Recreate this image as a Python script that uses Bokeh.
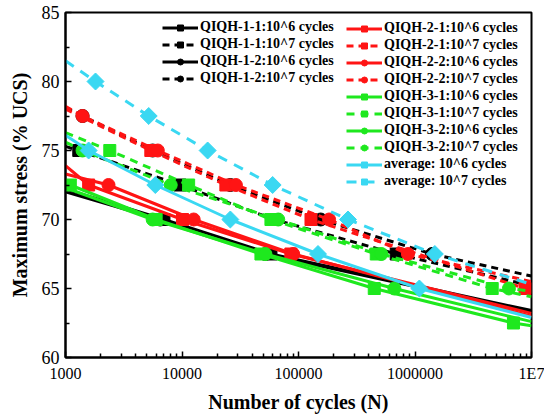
import numpy as np
from bokeh.plotting import figure
from bokeh.models import Range1d, FixedTicker, Legend, LegendItem
from bokeh.embed import file_html
from bokeh.resources import INLINE

labels = [
    "QIQH-1-1:10^6 cycles", "QIQH-1-1:10^7 cycles",
    "QIQH-1-2:10^6 cycles", "QIQH-1-2:10^7 cycles",
    "QIQH-2-1:10^6 cycles", "QIQH-2-1:10^7 cycles",
    "QIQH-2-2:10^6 cycles", "QIQH-2-2:10^7 cycles",
    "QIQH-3-1:10^6 cycles", "QIQH-3-1:10^7 cycles",
    "QIQH-3-2:10^6 cycles", "QIQH-3-2:10^7 cycles",
    "average: 10^6 cycles", "average: 10^7 cycles",
]
colors = ["#000000"] * 4 + ["#ff1414"] * 4 + ["#1ee81e"] * 4 + ["#3ad8f2"] * 2
dashed = [False, True] * 7
markers = ["square", "square", "circle", "circle",
           "square", "square", "circle", "circle",
           "square", "square", "circle", "circle",
           "diamond", "diamond"]

# fitted line values at N = 1000 and N = 1E7
start_stress = [72.2, 75.3, 72.0, 78.1, 73.9, 78.0, 73.3, 78.2, 72.7, 76.3, 72.3, 75.6, 76.1, 81.5]
end_stress = [63.4, 65.2, 63.3, 65.9, 63.2, 64.95, 63.0, 65.5, 62.3, 64.4, 62.6, 64.8, 62.9, 65.3]

# test points (cycles to failure, maximum stress)
cycles = [
    [7000, 58000],
    [1300, 9600, 62000, 690000],
    [6500, 52000],
    [1400, 5600, 26000, 155000, 1400000],
    [1580, 10100, 86000],
    [5400, 23800, 128000, 8800000],
    [2340, 12600, 90000],
    [1400, 6200, 29000, 183000, 870000],
    [1100, 6000, 47600, 447000, 7000000],
    [2400, 11400, 58000, 465000, 4600000],
    [5600, 52000, 665000],
    [1400, 8000, 67000, 515000, 6400000],
    [1580, 5900, 26000, 147000, 1090000],
    [1810, 5180, 16600, 60000, 266000, 1480000],
]
stress = [
    [70, 67.5],
    [75, 72.5, 70, 67.5],
    [70, 67.5],
    [77.5, 75, 72.5, 70, 67.5],
    [72.5, 70, 67.5],
    [75, 72.5, 70, 65],
    [72.5, 70, 67.5],
    [77.5, 75, 72.5, 70, 67.5],
    [72.5, 70, 67.5, 65, 62.5],
    [75, 72.5, 70, 67.5, 65],
    [70, 67.5, 65],
    [75, 72.5, 70, 67.5, 65],
    [75, 72.5, 70, 67.5, 65],
    [80, 77.5, 75, 72.5, 70, 67.5],
]

x_ticks = [1e3, 1e4, 1e5, 1e6, 1e7]
x_tick_labels = ["1000", "10000", "100000", "1000000", "1E7"]
y_ticks = [60, 65, 70, 75, 80, 85]
y_minor = [62.5, 67.5, 72.5, 77.5, 82.5]

FONT = "Liberation Serif"

p = figure(width=544, height=416, x_axis_type="log",
           x_range=Range1d(1e3, 1e7), y_range=Range1d(60, 85),
           output_backend="svg", toolbar_location=None,
           min_border_left=65, min_border_right=13,
           min_border_top=12, min_border_bottom=59)
p.grid.visible = False
p.outline_line_color = "black"
p.outline_line_width = 2
p.background_fill_color = "white"
p.border_fill_color = "white"

x_minor = [k * d for d in x_ticks[:-1] for k in range(2, 10)]
p.xaxis.ticker = FixedTicker(ticks=x_ticks, minor_ticks=x_minor)
p.xaxis.major_label_overrides = {float(t): l for t, l in zip(x_ticks, x_tick_labels)}
p.yaxis.ticker = FixedTicker(ticks=y_ticks, minor_ticks=y_minor)

for ax in (p.xaxis, p.yaxis):
    ax.axis_line_width = 2
    ax.major_tick_in = 6
    ax.major_tick_out = 0
    ax.minor_tick_in = 4
    ax.minor_tick_out = 0
    ax.major_tick_line_width = 1.5
    ax.minor_tick_line_width = 1.5
    ax.major_label_text_font = FONT
    ax.major_label_text_color = "black"
    ax.axis_label_text_font = FONT
    ax.axis_label_text_font_style = "bold"
    ax.axis_label_text_font_size = "20px"
    ax.axis_label_text_color = "black"

p.xaxis.major_label_text_font_size = "16px"
p.yaxis.major_label_text_font_size = "18px"
p.xaxis.major_label_standoff = 7
p.yaxis.major_label_standoff = 6
p.xaxis.axis_label_standoff = 6
p.yaxis.axis_label_standoff = 8
p.xaxis.axis_label = "Number of cycles (N)"
p.yaxis.axis_label = "Maximum stress (% UCS)"

dash_for = {"#000000": "7 5", "#ff1414": "7 5", "#1ee81e": "8 6", "#3ad8f2": "10 8"}

items = []
for i, lab in enumerate(labels):
    xs = [1e3] + cycles[i] + [1e7]
    ys = [start_stress[i]] + stress[i] + [end_stress[i]]
    c = colors[i]
    ln = p.line(xs, ys, line_color=c, line_width=3,
                line_dash=dash_for[c] if dashed[i] else "solid")
    m = markers[i]
    if m == "diamond":
        sc = p.scatter(cycles[i], stress[i], marker="square", angle=np.pi / 4,
                       size=12, fill_color=c, line_color=c)
    elif m == "square":
        sc = p.scatter(cycles[i], stress[i], marker="square", size=12,
                       fill_color=c, line_color=c)
    else:
        sc = p.scatter(cycles[i], stress[i], marker="circle", size=13,
                       fill_color=c, line_color=c)
    items.append(LegendItem(label=lab, renderers=[ln, sc]))


def make_legend(its, loc):
    lg = Legend(items=its, location=loc)
    lg.margin = 0
    lg.padding = 0
    lg.spacing = 1
    lg.glyph_width = 36
    lg.glyph_height = 15
    lg.label_height = 15
    lg.label_standoff = 2
    lg.label_text_font = FONT
    lg.label_text_font_style = "bold"
    lg.label_text_font_size = "14px"
    lg.label_text_color = "black"
    lg.border_line_alpha = 0
    lg.background_fill_alpha = 0
    return lg


p.add_layout(make_legend(items[:4], (97, 271)))
p.add_layout(make_legend(items[4:], (281, 168)))

open("out.html", "w").write(file_html(p, INLINE))
